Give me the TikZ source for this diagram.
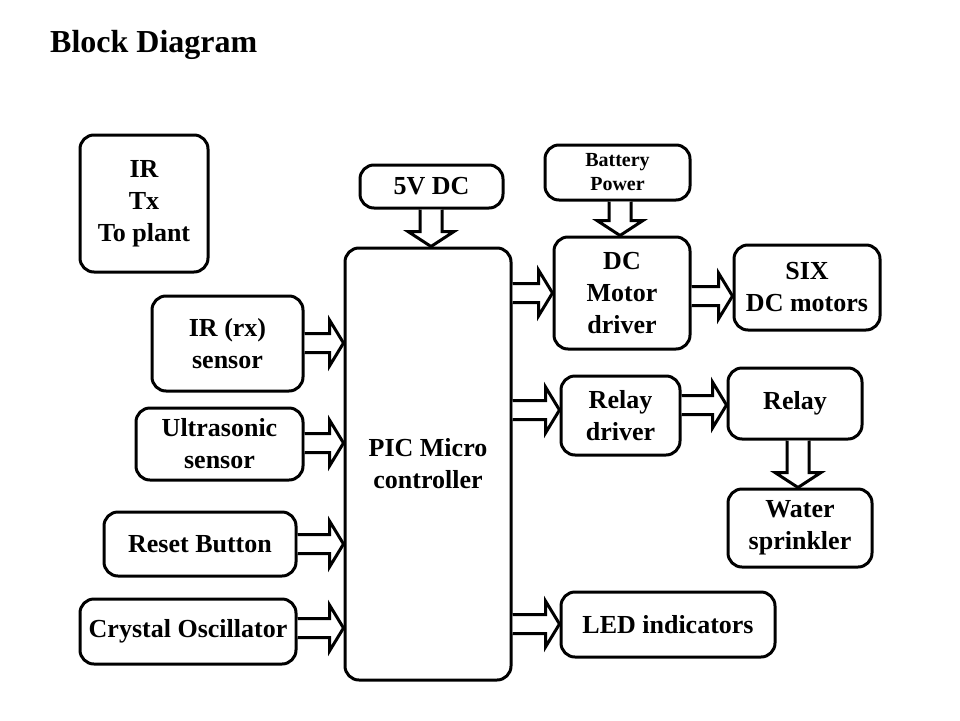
\documentclass[tikz,border=0pt]{standalone}
\usepackage{fontspec}
\setmainfont{Liberation Serif}
\usetikzlibrary{calc}
\tikzset{
  box/.style={draw, line width=3pt, rounded corners=14pt, align=center, inner sep=0pt,
    font=\bfseries\fontsize{26}{32}\selectfont},
  blk/.style={draw, line width=3pt, fill=white, line join=miter},
}
% horizontal block arrow: source, target, y
\newcommand{\harrow}[3]{%
  \draw[blk] let \p1=(#1.east), \p2=(#2.west), \p3=(0,#3) in
    (\x1,\y3+9.5pt) -- (\x2-14pt,\y3+9.5pt) -- (\x2-14pt,\y3+23pt) -- (\x2,\y3)
    -- (\x2-14pt,\y3-23pt) -- (\x2-14pt,\y3-9.5pt) -- (\x1,\y3-9.5pt);}
% vertical block arrow: source, target, x
\newcommand{\varrow}[3]{%
  \draw[blk] let \p1=(#1.south), \p2=(#2.north), \p3=(#3,0) in
    (\x3-11pt,\y1) -- (\x3-11pt,\y2+15pt) -- (\x3-23pt,\y2+15pt) -- (\x3,\y2)
    -- (\x3+23pt,\y2+15pt) -- (\x3+11pt,\y2+15pt) -- (\x3+11pt,\y1);}
\begin{document}
\begin{tikzpicture}[x=1pt,y=-1pt]
\useasboundingbox[fill=white] (0,0) rectangle (960,720);
\node[anchor=base west, font=\bfseries\fontsize{32}{36}\selectfont, inner sep=0pt] (title) at (50,52) {Block Diagram};

\node[box, minimum width=128pt, minimum height=137pt] (irtx) at (144,203.5) {IR\\Tx\\To plant};
\node[box, minimum width=143pt, minimum height=43pt] (v5) at (431.5,186.5) {5V DC};
\node[box, minimum width=145pt, minimum height=55pt, font=\bfseries\fontsize{20}{24}\selectfont] (batt) at (617.5,172.5) {Battery\\Power};
\node[box, minimum width=166pt, minimum height=432pt] (pic) at (428,464) {PIC Micro\\controller};
\node[box, minimum width=151pt, minimum height=95pt] (irrx) at (227.5,343.5) {IR (rx)\\sensor};
\node[box, minimum width=167pt, minimum height=72pt] (ultra) at (219.5,444) {Ultrasonic\\sensor};
\node[box, minimum width=192pt, minimum height=64pt] (reset) at (200,544) {Reset Button};
\node[box, minimum width=216pt, minimum height=65pt] (crystal) at (188,631.5) {Crystal Oscillator};
\node[box, minimum width=136pt, minimum height=112pt] (dcdrv) at (622,293) {DC\\Motor\\driver};
\node[box, minimum width=146pt, minimum height=85pt] (six) at (807,287.5) {SIX\\DC motors};
\node[box, minimum width=119pt, minimum height=79pt] (reldrv) at (620.5,415.5) {Relay\\driver};
\node[box, minimum width=134pt, minimum height=71pt] (relay) at (795,403.5) {Relay};
\node[box, minimum width=144pt, minimum height=78pt] (water) at (800,528) {Water\\sprinkler};
\node[box, minimum width=214pt, minimum height=65pt] (led) at (668,624.5) {LED indicators};

\harrow{irrx}{pic}{343}
\harrow{ultra}{pic}{443}
\harrow{reset}{pic}{544}
\harrow{crystal}{pic}{628}
\harrow{pic}{dcdrv}{293}
\harrow{pic}{reldrv}{410}
\harrow{pic}{led}{624}
\harrow{dcdrv}{six}{296}
\harrow{reldrv}{relay}{405}
\varrow{v5}{pic}{431}
\varrow{batt}{dcdrv}{620}
\varrow{relay}{water}{798}
\end{tikzpicture}
\end{document}
